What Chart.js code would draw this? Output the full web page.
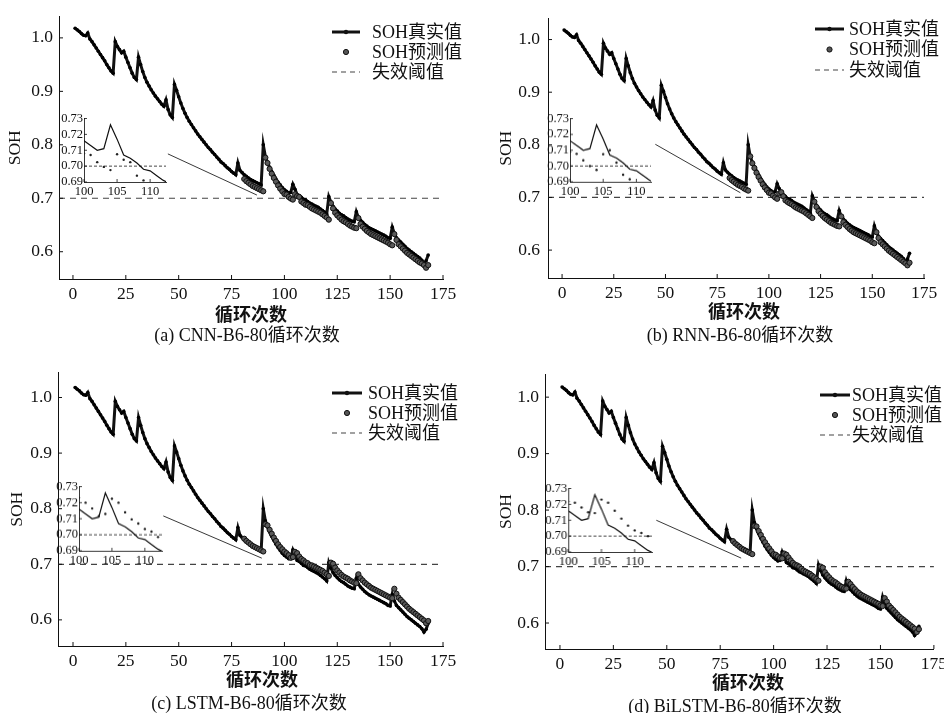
<!DOCTYPE html>
<html><head><meta charset="utf-8">
<script src="https://cdn.jsdelivr.net/npm/chart.js@4.4.0/dist/chart.umd.min.js"></script>
<style>
body{margin:0;background:#fff;}
#wrap{position:relative;width:944px;height:713px;overflow:hidden;background:#fff;}
#wrap canvas{position:absolute;}
.lbl{position:absolute;white-space:nowrap;transform:translate(-50%,-50%);color:#111;line-height:1;}
.xt{font:bold 18px "Noto Sans CJK SC",sans-serif;}
.cap{font:18px "Liberation Serif","Noto Sans CJK SC",serif;}
</style></head><body><div id="wrap"></div>
<script>
// ---------------- data ----------------
const firstCycle = 1;          // true SOH starts at cycle 1
const predFirstCycle = 81;     // predictions start after 80 training cycles
const threshold = 0.7;
const legendLabels = ['SOH真实值', 'SOH预测值', '失效阈值'];
const xTicks = [0, 25, 50, 75, 100, 125, 150, 175];
const yTicks = [0.6, 0.7, 0.8, 0.9, 1.0];
const insetXTicks = [100, 105, 110];
const insetYTicks = [0.69, 0.70, 0.71, 0.72, 0.73];
const xTitle = '循环次数';
const yTitle = 'SOH';

const trueSOH = [
 1.018,1.015,1.012,1.008,1.005,1.004,1.009,0.998,0.993,0.987,
 0.981,0.975,0.969,0.963,0.957,0.950,0.944,0.938,0.934,0.993,
 0.984,0.978,0.972,0.975,0.964,0.954,0.944,0.934,0.926,0.922,
 0.964,0.950,0.937,0.926,0.917,0.910,0.903,0.897,0.891,0.886,
 0.881,0.876,0.872,0.884,0.866,0.856,0.851,0.913,0.902,0.890,
 0.878,0.868,0.859,0.851,0.844,0.838,0.832,0.826,0.820,0.815,
 0.810,0.805,0.800,0.795,0.791,0.786,0.782,0.777,0.773,0.768,
 0.765,0.761,0.757,0.754,0.750,0.747,0.744,0.766,0.752,0.748,
 0.744,0.741,0.738,0.735,0.733,0.731,0.729,0.727,0.725,0.800,
 0.778,0.767,0.758,0.750,0.743,0.736,0.730,0.725,0.720,0.716,
 0.713,0.710,0.711,0.726,0.717,0.707,0.705,0.702,0.698,0.697,
 0.694,0.691,0.689,0.687,0.685,0.683,0.680,0.677,0.674,0.670,
 0.703,0.693,0.685,0.680,0.676,0.672,0.669,0.667,0.664,0.661,
 0.659,0.657,0.656,0.675,0.664,0.659,0.655,0.651,0.648,0.645,
 0.643,0.641,0.639,0.637,0.635,0.633,0.631,0.629,0.626,0.625,
 0.646,0.634,0.626,0.622,0.618,0.614,0.610,0.606,0.603,0.600,
 0.597,0.594,0.591,0.588,0.584,0.578,0.583,0.594
];
const predCNN = [
 0.736,0.732,0.729,0.726,0.723,0.721,0.719,0.717,0.715,0.713,
 0.776,0.766,0.755,0.746,0.738,0.731,0.724,0.718,0.713,0.708,
 0.707,0.7025,0.6995,0.6975,0.7075,0.704,0.7025,0.694,0.691,0.688,
 0.687,0.684,0.681,0.679,0.677,0.675,0.673,0.670,0.667,0.664,
 0.660,0.691,0.681,0.673,0.668,0.664,0.660,0.657,0.655,0.652,
 0.649,0.647,0.645,0.644,0.663,0.652,0.647,0.643,0.639,0.636,
 0.633,0.631,0.629,0.627,0.625,0.623,0.621,0.619,0.617,0.614,
 0.612,0.633,0.622,0.614,0.610,0.606,0.602,0.598,0.595,0.592,
 0.589,0.586,0.583,0.580,0.578,0.575,0.570,0.575
];
const predRNN = [
 0.737,0.733,0.730,0.727,0.724,0.722,0.720,0.717,0.715,0.713,
 0.778,0.765,0.756,0.747,0.739,0.732,0.725,0.719,0.714,0.709,
 0.7077,0.7036,0.700,0.6975,0.7075,0.710,0.7022,0.6945,0.6916,0.689,
 0.687,0.684,0.681,0.679,0.677,0.675,0.673,0.670,0.667,0.664,
 0.661,0.692,0.682,0.674,0.669,0.665,0.661,0.658,0.655,0.652,
 0.650,0.648,0.646,0.645,0.664,0.653,0.648,0.644,0.640,0.637,
 0.634,0.632,0.630,0.628,0.626,0.624,0.622,0.620,0.618,0.615,
 0.613,0.634,0.623,0.615,0.611,0.607,0.603,0.599,0.596,0.593,
 0.590,0.587,0.584,0.581,0.578,0.575,0.571,0.576
];
const predLSTM = [
 0.746,0.742,0.739,0.736,0.733,0.731,0.729,0.727,0.725,0.723,
 0.772,0.770,0.762,0.755,0.748,0.742,0.736,0.731,0.727,0.723,
 0.720,0.7164,0.7116,0.713,0.7224,0.720,0.714,0.7096,0.707,0.7036,
 0.702,0.6986,0.698,0.696,0.694,0.692,0.690,0.688,0.685,0.682,
 0.679,0.703,0.701,0.694,0.689,0.685,0.681,0.678,0.676,0.674,
 0.671,0.669,0.667,0.666,0.682,0.675,0.671,0.667,0.664,0.661,
 0.658,0.656,0.654,0.652,0.650,0.648,0.646,0.644,0.642,0.640,
 0.639,0.656,0.647,0.640,0.636,0.632,0.628,0.624,0.620,0.617,
 0.614,0.611,0.608,0.605,0.602,0.599,0.594,0.598
];
const predBiLSTM = [
 0.745,0.741,0.738,0.735,0.732,0.730,0.728,0.726,0.724,0.722,
 0.772,0.771,0.763,0.756,0.749,0.743,0.737,0.732,0.727,0.722,
 0.721,0.718,0.715,0.7145,0.723,0.721,0.716,0.711,0.7066,0.7036,
 0.702,0.700,0.696,0.693,0.691,0.689,0.687,0.684,0.681,0.678,
 0.675,0.700,0.698,0.690,0.685,0.681,0.677,0.674,0.672,0.669,
 0.666,0.664,0.662,0.661,0.673,0.669,0.664,0.660,0.656,0.653,
 0.650,0.648,0.646,0.644,0.642,0.640,0.638,0.636,0.634,0.631,
 0.630,0.644,0.638,0.631,0.627,0.623,0.619,0.615,0.611,0.608,
 0.605,0.602,0.599,0.596,0.593,0.590,0.584,0.589
];

// ---------------- layout / styles ----------------
const SERIF = '"Liberation Serif","Noto Sans CJK SC",serif';
const panels = [
 {pred: predCNN, caption: '(a) CNN-B6-80循环次数',
  left:0, top:0, w:472, h:356, area:{l:59,t:10,r:443,b:279}, xmin:-6.6, ymin:0.549, ymax:1.040, ytx:4.8, ytp:6,
  conn:[[44.9,0.783],[87.0,0.706]], legend:{x1:332,x2:360,tx:372,y:32,dy:20},
  xtitle:[251,313], cap:[247,333], inset:{l:83.5,t:115.5,r:166,b:182,xmax:112.4}},
 {pred: predRNN, caption: '(b) RNN-B6-80循环次数',
  left:472, top:0, w:472, h:356, area:{l:76,t:7,r:452,b:278}, xmin:-6.8, ymin:0.547, ymax:1.040, ytx:24, ytp:8,
  conn:[[45.1,0.801],[86.2,0.709]], legend:{x1:343,x2:372,tx:377,y:29,dy:20.5},
  xtitle:[744,310], cap:[740,333], inset:{l:570,t:115.7,r:651,b:181.7,xmax:112.2}},
 {pred: predLSTM, caption: '(c) LSTM-B6-80循环次数',
  left:0, top:356, w:472, h:357, area:{l:58,t:16,r:443,b:290}, xmin:-7.1, ymin:0.553, ymax:1.045, ytx:7, ytp:6,
  conn:[[42.7,0.787],[89.3,0.711]], legend:{x1:332,x2:362,tx:368,y:37,dy:20},
  xtitle:[262,678], cap:[249,701], inset:{l:78.7,t:484.3,r:162,b:551,xmax:112.6}},
 {pred: predBiLSTM, caption: '(d) BiLSTM-B6-80循环次数',
  left:472, top:356, w:480, h:357, area:{l:73,t:18,r:462,b:293}, xmin:-7.0, ymin:0.554, ymax:1.041, ytx:24, ytp:6,
  conn:[[45.1,0.782],[84.8,0.715]], legend:{x1:348,x2:378,tx:380,y:39,dy:20},
  xtitle:[748,681], cap:[735,704], inset:{l:568.3,t:486,r:651.7,b:552,xmax:112.6}}
];

const truePts = trueSOH.map((v, i) => ({x: firstCycle + i, y: v}));
const toPts = arr => arr.map((v, i) => ({x: predFirstCycle + i, y: v}));

// ---------------- plugins ----------------
const inTicks = {
  id: 'inTicks',
  afterDraw(chart, args, o) {
    const len = o.len || 4, ctx = chart.ctx, xs = chart.scales.x, ys = chart.scales.y;
    ctx.save(); ctx.strokeStyle = '#111'; ctx.lineWidth = o.lw || 1;
    ctx.beginPath();
    xs.ticks.forEach(t => { const px = xs.getPixelForValue(t.value); ctx.moveTo(px, xs.top); ctx.lineTo(px, xs.top - len); });
    ys.ticks.forEach(t => { const py = ys.getPixelForValue(t.value); ctx.moveTo(ys.right, py); ctx.lineTo(ys.right + len, py); });
    ctx.stroke(); ctx.restore();
  }
};
const sohLegend = {
  id: 'sohLegend',
  afterDraw(chart, args, o) {
    if (!o || !o.pos) return;
    const p = o.pos, ctx = chart.ctx;
    ctx.save();
    ctx.font = '18px ' + SERIF; ctx.fillStyle = '#111'; ctx.textBaseline = 'middle'; ctx.textAlign = 'left';
    legendLabels.forEach((txt, i) => {
      const y = p.y + i * p.dy, mx = (p.x1 + p.x2) / 2;
      ctx.strokeStyle = '#111'; ctx.fillStyle = '#111';
      if (i === 0) {
        ctx.lineWidth = 3; ctx.setLineDash([]);
        ctx.beginPath(); ctx.moveTo(p.x1, y); ctx.lineTo(p.x2, y); ctx.stroke();
        ctx.beginPath(); ctx.arc(mx, y, 2.2, 0, Math.PI * 2); ctx.fill();
      } else if (i === 1) {
        ctx.fillStyle = '#555'; ctx.strokeStyle = '#111'; ctx.lineWidth = 1;
        ctx.beginPath(); ctx.arc(mx, y, 2.6, 0, Math.PI * 2); ctx.fill(); ctx.stroke();
      } else {
        ctx.lineWidth = 1.2; ctx.strokeStyle = '#444'; ctx.setLineDash([5, 4]);
        ctx.beginPath(); ctx.moveTo(p.x1, y); ctx.lineTo(p.x2, y); ctx.stroke();
        ctx.setLineDash([]);
      }
      ctx.fillStyle = '#111';
      ctx.fillText(txt, p.tx, y + 1);
    });
    ctx.restore();
  }
};

Chart.defaults.font.family = SERIF;
Chart.defaults.color = '#111';

const wrap = document.getElementById('wrap');
function mkCanvas(l, t, w, h) {
  const c = document.createElement('canvas');
  c.width = w; c.height = h;
  c.style.left = l + 'px'; c.style.top = t + 'px';
  c.style.width = w + 'px'; c.style.height = h + 'px';
  wrap.appendChild(c);
  return c;
}
function mkLabel(cls, text, x, y) {
  const d = document.createElement('div');
  d.className = 'lbl ' + cls; d.textContent = text;
  d.style.left = x + 'px'; d.style.top = y + 'px';
  wrap.appendChild(d);
}

panels.forEach(p => {
  const a = p.area;
  const cv = mkCanvas(p.left, p.top, p.w, p.h);
  new Chart(cv, {
    type: 'line',
    data: {
      datasets: [
        {label: legendLabels[1], data: toPts(p.pred), showLine: false, pointRadius: 2.6,
         pointBackgroundColor: '#5a5a5a', pointBorderColor: '#111', pointBorderWidth: 1},
        {label: legendLabels[0], data: truePts, borderColor: '#111', borderWidth: 3, tension: 0,
         pointRadius: 1.8, pointBackgroundColor: '#000', pointBorderWidth: 0},
        {label: legendLabels[2], data: [{x: p.xmin, y: threshold}, {x: 175, y: threshold}],
         borderColor: '#444', borderWidth: 1.2, borderDash: [6, 5], pointRadius: 0},
        {label: 'connector', data: p.conn.map(c => ({x: c[0], y: c[1]})),
         borderColor: '#222', borderWidth: 0.9, pointRadius: 0}
      ]
    },
    options: {
      responsive: false, animation: false, devicePixelRatio: 1,
      layout: {padding: {left: 0, top: a.t, right: p.w - a.r, bottom: 0}},
      plugins: {legend: {display: false}, tooltip: {enabled: false},
        inTicks: {len: 4}, sohLegend: {pos: p.legend}},
      scales: {
        x: {type: 'linear', min: p.xmin, max: 175,
          afterBuildTicks: s => { s.ticks = xTicks.map(v => ({value: v})); },
          afterFit: s => { s.height = p.h - a.b; },
          ticks: {font: {size: 17.5}, color: '#111', padding: 5, maxRotation: 0, autoSkip: false, callback: v => String(v)},
          grid: {display: false, drawTicks: false},
          border: {display: true, color: '#111', width: 1}},
        y: {type: 'linear', min: p.ymin, max: p.ymax,
          afterBuildTicks: s => { s.ticks = yTicks.map(v => ({value: v})); },
          afterFit: s => { s.width = a.l; },
          ticks: {font: {size: 17.5}, color: '#111', padding: p.ytp, autoSkip: false, callback: v => v.toFixed(1)},
          grid: {display: false, drawTicks: false},
          border: {display: true, color: '#111', width: 1},
          title: {display: true, text: yTitle, font: {size: 17.5}, color: '#111', padding: {top: p.ytx, bottom: 0}}}
      }
    },
    plugins: [inTicks, sohLegend]
  });

  // inset
  const ins = p.inset, padL = 30, padT = 6, padR = 12, padB = 18;
  const ic = mkCanvas(ins.l - padL, ins.t - padT, ins.r - ins.l + padL + padR, ins.b - ins.t + padT + padB);
  new Chart(ic, {
    type: 'line',
    data: {
      datasets: [
        {data: toPts(p.pred), showLine: false, pointRadius: 1.2, pointBackgroundColor: '#222', pointBorderWidth: 0},
        {data: truePts, borderColor: '#111', borderWidth: 1.2, tension: 0, pointRadius: 0},
        {data: [{x: 100, y: threshold}, {x: ins.xmax, y: threshold}], borderColor: '#333', borderWidth: 0.9, borderDash: [3, 2], pointRadius: 0}
      ]
    },
    options: {
      responsive: false, animation: false, devicePixelRatio: 1,
      layout: {padding: {left: 0, top: padT, right: padR, bottom: 0}},
      plugins: {legend: {display: false}, tooltip: {enabled: false}, inTicks: {len: 3, lw: 0.8}},
      scales: {
        x: {type: 'linear', min: 100, max: ins.xmax,
          afterBuildTicks: s => { s.ticks = insetXTicks.map(v => ({value: v})); },
          afterFit: s => { s.height = padB; },
          ticks: {font: {size: 12.5}, color: '#111', padding: 2, maxRotation: 0, autoSkip: false, callback: v => String(v)},
          grid: {display: false, drawTicks: false},
          border: {display: true, color: '#222', width: 0.9}},
        y: {type: 'linear', min: 0.69, max: 0.73,
          afterBuildTicks: s => { s.ticks = insetYTicks.map(v => ({value: v})); },
          afterFit: s => { s.width = padL; },
          ticks: {font: {size: 12.5}, color: '#111', padding: 1, autoSkip: false, callback: v => v.toFixed(2)},
          grid: {display: false, drawTicks: false},
          border: {display: true, color: '#222', width: 0.9}}
      }
    },
    plugins: [inTicks]
  });

  mkLabel('xt', xTitle, p.xtitle[0], p.xtitle[1]);
  mkLabel('cap', p.caption, p.cap[0], p.cap[1]);
});
</script></body></html>
